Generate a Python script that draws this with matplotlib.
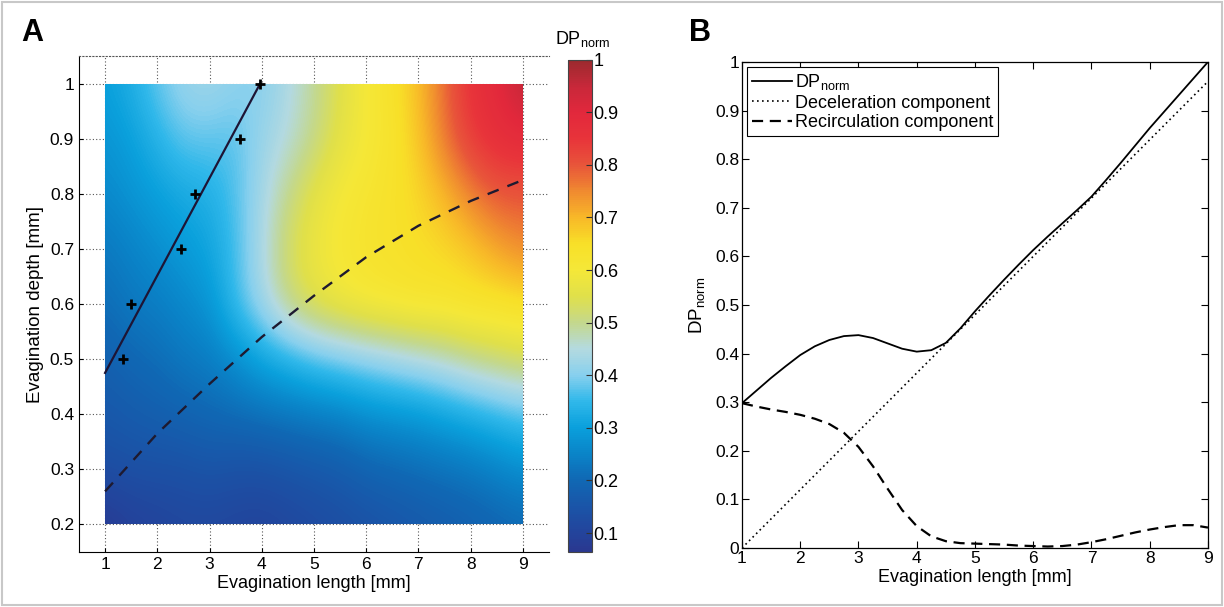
import numpy as np
import matplotlib
matplotlib.use("Agg")
import matplotlib.pyplot as plt
from matplotlib.colors import LinearSegmentedColormap, Normalize
from matplotlib.patches import Rectangle

plt.rcParams['font.family'] = ['Liberation Sans', 'DejaVu Sans']
plt.rcParams['mathtext.fontset'] = 'custom'
plt.rcParams['mathtext.rm'] = 'Liberation Sans'
plt.rcParams['mathtext.it'] = 'Liberation Sans:italic'

# ---- panel A: DP_norm map over evagination length / depth ----
map_length = [1, 1.5, 2, 2.5, 3, 3.5, 4, 4.5, 5, 5.5, 6, 6.5, 7, 7.5, 8, 8.5, 9]
map_depth = [1.0, 0.9, 0.8, 0.7, 0.6, 0.5, 0.4, 0.3, 0.2]
dp_map = [
    [0.30, 0.33, 0.38, 0.42, 0.43, 0.41, 0.40, 0.44, 0.49, 0.55, 0.60, 0.64, 0.69, 0.78, 0.86, 0.89, 0.97],
    [0.28, 0.30, 0.34, 0.38, 0.38, 0.37, 0.42, 0.45, 0.50, 0.56, 0.60, 0.63, 0.68, 0.77, 0.84, 0.87, 0.88],
    [0.26, 0.28, 0.30, 0.32, 0.33, 0.37, 0.43, 0.50, 0.56, 0.60, 0.62, 0.64, 0.66, 0.70, 0.76, 0.80, 0.80],
    [0.23, 0.25, 0.27, 0.29, 0.31, 0.36, 0.44, 0.53, 0.58, 0.61, 0.63, 0.64, 0.65, 0.66, 0.68, 0.72, 0.75],
    [0.21, 0.23, 0.24, 0.26, 0.28, 0.36, 0.43, 0.51, 0.56, 0.59, 0.61, 0.62, 0.63, 0.63, 0.64, 0.64, 0.65],
    [0.18, 0.20, 0.21, 0.23, 0.24, 0.27, 0.31, 0.34, 0.37, 0.39, 0.41, 0.43, 0.45, 0.47, 0.50, 0.52, 0.54],
    [0.16, 0.17, 0.18, 0.19, 0.20, 0.21, 0.22, 0.23, 0.24, 0.25, 0.27, 0.28, 0.29, 0.31, 0.33, 0.35, 0.37],
    [0.13, 0.14, 0.14, 0.14, 0.15, 0.14, 0.14, 0.15, 0.16, 0.17, 0.19, 0.20, 0.21, 0.22, 0.23, 0.25, 0.27],
    [0.07, 0.09, 0.10, 0.11, 0.11, 0.105, 0.10, 0.11, 0.12, 0.13, 0.14, 0.15, 0.16, 0.17, 0.18, 0.19, 0.20],
]

# measured optimum points and fitted line, plus the dashed boundary curve
opt_length = [1.34, 1.5, 2.45, 2.73, 3.59, 3.97]
opt_depth = [0.5, 0.6, 0.7, 0.8, 0.9, 1.0]
fit_length = [1.0, 3.97]
fit_depth = [0.475, 1.0]
bound_length = [1, 2, 3, 4, 5, 6, 7, 8, 9]
bound_depth = [0.26, 0.365, 0.455, 0.54, 0.615, 0.685, 0.742, 0.787, 0.825]

# ---- panel B: DP_norm and its components ----
comp_length = [1, 1.25, 1.5, 1.75, 2, 2.25, 2.5, 2.75, 3, 3.25, 3.5, 3.75, 4, 4.25, 4.5, 4.75,
               5, 5.25, 5.5, 5.75, 6, 6.25, 6.5, 6.75, 7, 7.25, 7.5, 7.75, 8, 8.25, 8.5, 8.75, 9]
dp_norm = [0.298, 0.324, 0.350, 0.374, 0.397, 0.415, 0.428, 0.436, 0.438, 0.432, 0.421,
           0.410, 0.404, 0.407, 0.422, 0.452, 0.487, 0.520, 0.552, 0.583, 0.613, 0.641,
           0.668, 0.695, 0.723, 0.757, 0.792, 0.828, 0.864, 0.898, 0.932, 0.966, 1.000]
decel = [0.00, 0.03, 0.06, 0.09, 0.12, 0.15, 0.18, 0.21, 0.24, 0.27, 0.30,
         0.33, 0.36, 0.39, 0.42, 0.45, 0.48, 0.51, 0.54, 0.57, 0.60, 0.63,
         0.66, 0.69, 0.72, 0.75, 0.78, 0.81, 0.84, 0.87, 0.90, 0.93, 0.96]
recirc = [0.298, 0.291, 0.285, 0.280, 0.274, 0.266, 0.255, 0.237, 0.208, 0.168, 0.122,
          0.078, 0.045, 0.024, 0.014, 0.010, 0.009, 0.008, 0.007, 0.005, 0.004, 0.003,
          0.004, 0.007, 0.012, 0.018, 0.025, 0.032, 0.038, 0.043, 0.047, 0.047, 0.042]

# colour scale as seen on the bar
cmap_pos = [0.064, 0.1, 0.15, 0.2, 0.25, 0.3, 0.35, 0.4, 0.45, 0.5, 0.55, 0.6,
            0.65, 0.7, 0.75, 0.8, 0.85, 0.9, 0.95, 1.0]
cmap_col = ['#2a3890', '#23449c', '#1a55a8', '#1068b4', '#0a84c8', '#0aa0dc', '#30b8ea',
            '#88d0ee', '#b4dae0', '#c4d88c', '#e0e04a', '#f5e838', '#f8e028', '#f8b828',
            '#f08a30', '#e8553a', '#e8343a', '#e2283c', '#c8283a', '#9b2a2e']
vmin, vmax = 0.064, 1.0
cmap = LinearSegmentedColormap.from_list(
    'dp', [((p - vmin) / (vmax - vmin), c) for p, c in zip(cmap_pos, cmap_col)])

fig = plt.figure(figsize=(12.24, 6.07), dpi=100)

# ---------------- A ----------------
axA = fig.add_axes([0.0645, 0.0906, 0.384, 0.8171])
dx = (map_length[1] - map_length[0]) / 2
dy = (map_depth[0] - map_depth[1]) / 2
im = axA.imshow(np.array(dp_map), cmap=cmap, norm=Normalize(vmin, vmax),
                extent=(map_length[0] - dx, map_length[-1] + dx,
                        map_depth[-1] - dy, map_depth[0] + dy),
                origin='upper', aspect='auto', interpolation='bicubic', zorder=2)
im.set_clip_path(Rectangle((map_length[0], map_depth[-1]),
                           map_length[-1] - map_length[0], map_depth[0] - map_depth[-1],
                           transform=axA.transData))
axA.plot(fit_length, fit_depth, color='#1e1535', lw=1.6, zorder=3)
axA.plot(opt_length, opt_depth, '+', color='black', ms=7, mew=2, zorder=4)
axA.plot(bound_length, bound_depth, color='#1e1a30', lw=1.7, ls=(0, (5, 4)), zorder=3)

axA.set_xlim(0.5, 9.5)
axA.set_ylim(0.15, 1.05)
axA.set_xticks([1, 2, 3, 4, 5, 6, 7, 8, 9])
axA.set_yticks([0.2, 0.3, 0.4, 0.5, 0.6, 0.7, 0.8, 0.9, 1.0])
axA.set_yticklabels(['0.2', '0.3', '0.4', '0.5', '0.6', '0.7', '0.8', '0.9', '1'])
axA.grid(True, color='#555555', ls=(0, (1, 2)), lw=0.8, zorder=1)
axA.set_axisbelow(True)
axA.spines['right'].set_visible(False)
axA.spines['top'].set_linestyle((0, (1, 2)))
axA.spines['top'].set_color('#555555')
axA.spines['top'].set_linewidth(0.8)
axA.tick_params(direction='in', length=3, labelsize=12.5, top=False, right=False)
axA.set_xlabel('Evagination length [mm]', fontsize=13, labelpad=2)
axA.set_ylabel('Evagination depth [mm]', fontsize=13.5, labelpad=4)

cax = fig.add_axes([0.4641, 0.0906, 0.0196, 0.8112])
cb = fig.colorbar(im, cax=cax, ticks=[0.1, 0.2, 0.3, 0.4, 0.5, 0.6, 0.7, 0.8, 0.9, 1.0])
cb.ax.set_yticklabels(['0.1', '0.2', '0.3', '0.4', '0.5', '0.6', '0.7', '0.8', '0.9', '1'])
cb.ax.tick_params(direction='in', length=4, labelsize=13, pad=1, color='#333333')
cb.outline.set_edgecolor('#444444')
cb.outline.set_linewidth(0.8)
fig.text(0.476, 0.935, r'DP$_{\mathrm{norm}}$', ha='center', va='center', fontsize=13)

# ---------------- B ----------------
axB = fig.add_axes([0.6062, 0.0972, 0.3807, 0.8007])
axB.plot(comp_length, dp_norm, color='black', lw=1.3, label=r'DP$_{\mathrm{norm}}$')
axB.plot(comp_length, decel, color='black', lw=1.2, ls=(0, (1, 2)),
         label='Deceleration component')
axB.plot(comp_length, recirc, color='black', lw=1.6, ls=(0, (5, 3)),
         label='Recirculation component')
axB.set_xlim(1, 9)
axB.set_ylim(0, 1)
axB.set_xticks([1, 2, 3, 4, 5, 6, 7, 8, 9])
axB.set_yticks([0, 0.1, 0.2, 0.3, 0.4, 0.5, 0.6, 0.7, 0.8, 0.9, 1.0])
axB.set_yticklabels(['0', '0.1', '0.2', '0.3', '0.4', '0.5', '0.6', '0.7', '0.8', '0.9', '1'])
axB.tick_params(direction='in', length=5, labelsize=12.5, top=True, right=True, pad=2)
for s in axB.spines.values():
    s.set_linewidth(0.9)
axB.set_xlabel('Evagination length [mm]', fontsize=13, labelpad=2)
axB.set_ylabel(r'DP$_{\mathrm{norm}}$', fontsize=13.5, labelpad=6)
leg = axB.legend(loc='upper left', fontsize=13, handlelength=2.2, handletextpad=0.2,
                 borderpad=0.25, labelspacing=0.15, borderaxespad=0.3, fancybox=False,
                 framealpha=1)
leg.get_frame().set_edgecolor('black')
leg.get_frame().set_linewidth(0.8)

fig.text(0.017, 0.945, 'A', fontsize=22, fontweight='bold', ha='left', va='center')
fig.text(0.563, 0.945, 'B', fontsize=22, fontweight='bold', ha='left', va='center')
fig.patches.append(Rectangle((0.002, 0.004), 0.996, 0.992, transform=fig.transFigure,
                             fill=False, edgecolor='#c8c8c8', lw=1.5))

fig.savefig('out.png', dpi=100)
